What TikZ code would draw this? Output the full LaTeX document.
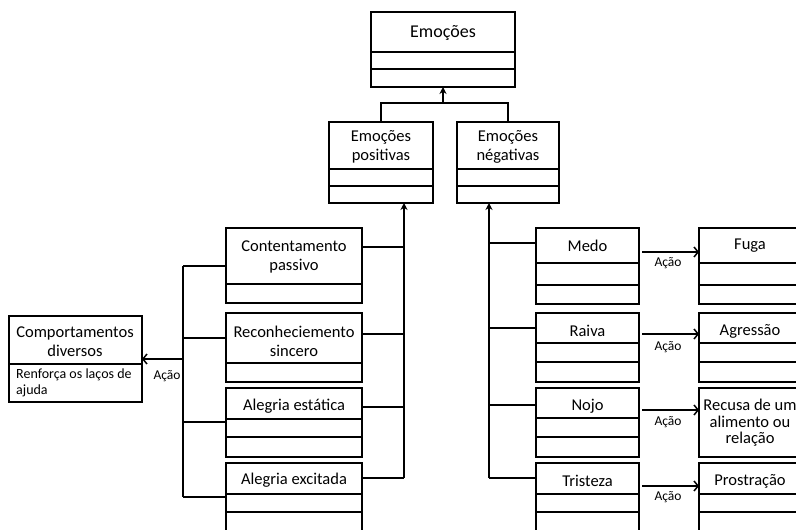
\documentclass[tikz,border=0pt]{standalone}
\usepackage{fontspec}
\setmainfont{Carlito}
\usetikzlibrary{arrows.meta}
\tikzset{
  box/.style={draw, line width=1.6pt, inner sep=0pt, outer sep=0pt, anchor=north west},
  div/.style={line width=1.5pt},
  txt/.style={inner sep=0pt, align=center, font=\fontsize{16.5}{19}\selectfont},
  big/.style={inner sep=0pt, font=\fontsize{18}{21}\selectfont},
  small/.style={inner sep=0pt, font=\fontsize{13.5}{16}\selectfont},
  con/.style={line width=1.6pt},
  uparr/.style={line width=1.6pt, -{Stealth[length=7pt,width=7pt]}},
  actarr/.style={line width=1.5pt, -{Straight Barb[length=4pt,width=10pt]}}
}
\begin{document}
\begin{tikzpicture}[x=1pt,y=-1pt]
\useasboundingbox (0,0) rectangle (796,530);
\clip (0,0) rectangle (796,530);
% top
\node[box, minimum width=144pt, minimum height=75pt] (emo) at (371,12) {};
\draw[div] (371,52) -- (515,52) (371,69) -- (515,69);
\node[big] (temo) at (443,33) {Emoções};
% second level
\node[box, minimum width=104pt, minimum height=81pt] (pos) at (329,122) {};
\draw[div] (329,169) -- (433,169) (329,186) -- (433,186);
\node[txt] (tpos) at (381,147) {Emoções\\positivas};
\node[box, minimum width=102pt, minimum height=81pt] (neg) at (457,122) {};
\draw[div] (457,169) -- (559,169) (457,186) -- (559,186);
\node[txt] (tneg) at (508,147) {Emoções\\négativas};
% positive emotions
\node[box, minimum width=136pt, minimum height=75pt] (c1) at (226,228) {};
\draw[div] (226,284) -- (362,284);
\node[txt] (tc1) at (294,257) {Contentamento\\passivo};
\node[box, minimum width=136pt, minimum height=69pt] (c2) at (226,313) {};
\draw[div] (226,363) -- (362,363);
\node[txt] (tc2) at (294,341) {Reconheciemento\\sincero};
\node[box, minimum width=136pt, minimum height=69pt] (c3) at (226,388) {};
\draw[div] (226,419) -- (362,419) (226,437) -- (362,437);
\node[txt] (tc3) at (294,406) {Alegria estática};
\node[box, minimum width=136pt, minimum height=75pt] (c4) at (226,463) {};
\draw[div] (226,494) -- (362,494) (226,512) -- (362,512);
\node[txt] (tc4) at (294,480) {Alegria excitada};
% comportamentos
\node[box, minimum width=133pt, minimum height=86pt] (comp) at (9,316) {};
\draw[div] (9,364) -- (142,364);
\node[txt] (tcomp) at (75,342) {Comportamentos\\diversos};
\node[inner sep=0pt, align=left, anchor=north west, font=\fontsize{14}{16}\selectfont] (tcomp2) at (16,369) {Renforça os laços de\\ajuda};
% negative emotions
\node[box, minimum width=103pt, minimum height=76pt] (m1) at (536,228) {};
\draw[div] (536,263) -- (639,263) (536,285) -- (639,285);
\node[txt] (tm1) at (587.5,246) {Medo};
\node[box, minimum width=103pt, minimum height=69pt] (m2) at (536,313) {};
\draw[div] (536,343) -- (639,343) (536,362) -- (639,362);
\node[txt] (tm2) at (587.5,331) {Raiva};
\node[box, minimum width=103pt, minimum height=69pt] (m3) at (536,388) {};
\draw[div] (536,418) -- (639,418) (536,437) -- (639,437);
\node[txt] (tm3) at (587.5,406) {Nojo};
\node[box, minimum width=103pt, minimum height=75pt] (m4) at (536,463) {};
\draw[div] (536,494) -- (639,494) (536,512) -- (639,512);
\node[txt] (tm4) at (587.5,481) {Tristeza};
% results
\node[box, minimum width=103pt, minimum height=76pt] (r1) at (699,228) {};
\draw[div] (699,263) -- (802,263) (699,285) -- (802,285);
\node[txt] (tr1) at (750,246) {Fuga};
\node[box, minimum width=103pt, minimum height=69pt] (r2) at (699,313) {};
\draw[div] (699,343) -- (802,343) (699,362) -- (802,362);
\node[txt] (tr2) at (750,331) {Agressão};
\node[box, minimum width=103pt, minimum height=69pt] (r3) at (699,388) {};
\node[txt, font=\fontsize{16.5}{16.5}\selectfont] (tr3) at (750,423) {Recusa de um\\alimento ou\\relação};
\node[box, minimum width=103pt, minimum height=75pt] (r4) at (699,463) {};
\draw[div] (699,494) -- (802,494) (699,512) -- (802,512);
\node[txt] (tr4) at (750,481) {Prostração};
% top connectors
\coordinate (j0) at (443,103);
\draw[con] (pos.north) -- (pos.north |- j0) -- (neg.north |- j0) -- (neg.north);
\draw[uparr] (j0) -- (emo.south);
% positive bus
\coordinate (pb) at (404,478);
\draw[uparr] (pb) -- (pb |- pos.south);
\draw[con] ([yshift=-19pt]c1.north east) -- ++(42,0);
\draw[con] ([yshift=-21pt]c2.north east) -- ++(42,0);
\draw[con] ([yshift=-19pt]c3.north east) -- ++(42,0);
\draw[con] ([yshift=-15pt]c4.north east) -- (pb);
% negative bus
\coordinate (nb) at (489,478);
\draw[uparr] (nb) -- (nb |- neg.south);
\draw[con] ([yshift=-15pt]m1.north west) -- ++(-47,0);
\draw[con] ([yshift=-15pt]m2.north west) -- ++(-47,0);
\draw[con] ([yshift=-17pt]m3.north west) -- ++(-47,0);
\draw[con] ([yshift=-15pt]m4.north west) -- (nb);
% left bus
\coordinate (lbt) at (183,266);
\coordinate (lbb) at (183,497);
\draw[con] (lbt) -- (lbb);
\draw[con] ([yshift=-38pt]c1.north west) -- (lbt);
\draw[con] ([yshift=-25pt]c2.north west) -- ++(-43,0);
\draw[con] ([yshift=-34pt]c3.north west) -- ++(-43,0);
\draw[con] ([yshift=-34pt]c4.north west) -- (lbb);
\coordinate (la) at (183,359);
\draw[actarr] (la) -- (comp.east);
\node[small] (acl) at (167,376) {Ação};
% action arrows
\draw[actarr] ([xshift=3pt,yshift=-24pt]m1.north east) -- ([yshift=-24pt]r1.north west);
\draw[actarr] ([xshift=3pt,yshift=-21pt]m2.north east) -- ([yshift=-21pt]r2.north west);
\draw[actarr] ([xshift=3pt,yshift=-22pt]m3.north east) -- ([yshift=-22pt]r3.north west);
\draw[actarr] ([xshift=3pt,yshift=-23pt]m4.north east) -- ([yshift=-23pt]r4.north west);
\node[small] (a1) at (668,263) {Ação};
\node[small] (a2) at (668,347) {Ação};
\node[small] (a3) at (668,422) {Ação};
\node[small] (a4) at (668,497) {Ação};
\end{tikzpicture}
\end{document}
